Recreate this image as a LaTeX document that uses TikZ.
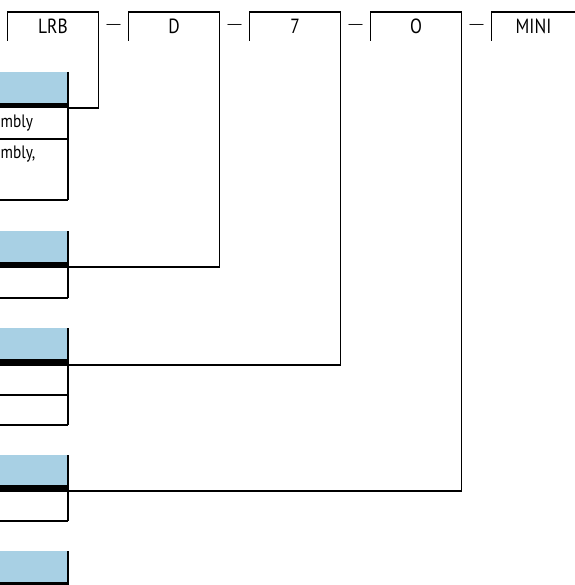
\documentclass[tikz,border=0pt]{standalone}
\usepackage{fontspec}
\setmainfont{PT Sans}[FakeStretch=0.85]
\newfontfamily\dashfont{Liberation Sans}
\usepackage{tikz}
\usetikzlibrary{positioning}
\definecolor{hdrblue}{HTML}{A8D0E4}

\begin{document}
\begin{tikzpicture}[x=1pt, y=-1pt, line width=1.2pt,
    codebox/.style={minimum width=91pt, minimum height=29pt, inner sep=0pt,
      outer sep=0pt, font=\fontsize{20.5}{22}\selectfont},
    dashsign/.style={font=\dashfont\fontsize{14}{16}\selectfont, inner sep=0pt},
    celltext/.style={anchor=west, inner sep=0pt, font=\fontsize{18}{20}\selectfont}]
  \useasboundingbox (0,0) rectangle (574,585);
  % order code boxes
  \node[codebox] (lrb) at (53,26.5) {LRB};
  \node[codebox, right=30pt of lrb] (d) {D};
  \node[codebox, right=30pt of d] (seven) {7};
  \node[codebox, right=30pt of seven] (zero) {O};
  \node[codebox, right=30pt of zero, minimum width=84pt] (mini) {MINI};
  \path (lrb) -- node[dashsign] {—} (d);
  \path (d) -- node[dashsign] {—} (seven);
  \path (seven) -- node[dashsign] {—} (zero);
  \path (zero.east) -- node[dashsign] {—} (mini.west);
  % table 1
  \fill[hdrblue] (-2,72) rectangle (68,103);
  \fill[black] (-2,103) rectangle (68,108.5);
  \draw (68,72) -- (68,200);
  \draw (-2,139) -- (68,139) (-2,200) -- (68,200);
  \node[celltext] (rowa) at (0,123) {mbly};
  \node[celltext] (rowb) at (0,154) {mbly,};
  \coordinate (tab1) at (68,108);
  % table 2
  \fill[hdrblue] (-2,231) rectangle (68,262);
  \fill[black] (-2,262) rectangle (68,268);
  \draw (68,231) -- (68,298);
  \draw (-2,298) -- (68,298);
  \coordinate (tab2) at (68,267);
  % table 3
  \fill[hdrblue] (-2,328) rectangle (68,359);
  \fill[black] (-2,359) rectangle (68,365.5);
  \draw (68,328) -- (68,425);
  \draw (-2,395) -- (68,395) (-2,425) -- (68,425);
  \coordinate (tab3) at (68,365);
  % table 4
  \fill[hdrblue] (-2,455) rectangle (68,485);
  \fill[black] (-2,485) rectangle (68,491.5);
  \draw (68,455) -- (68,521);
  \draw (-2,521) -- (68,521);
  \coordinate (tab4) at (68,491);
  % table 5
  \fill[hdrblue] (-2,551) rectangle (68,582);
  \fill[black] (-2,582) rectangle (68,590);
  \draw (68,551) -- (68,590);
  % box outlines and leader lines
  \draw (lrb.south west) -- (lrb.north west) -- (lrb.north east) |- (tab1);
  \draw (d.south west) -- (d.north west) -- (d.north east) |- (tab2);
  \draw (seven.south west) -- (seven.north west) -- (seven.north east) |- (tab3);
  \draw (zero.south west) -- (zero.north west) -- (zero.north east) |- (tab4);
  \draw (mini.south west) -- (mini.north west) -- (mini.north east) -- (mini.south east);
\end{tikzpicture}
\end{document}
